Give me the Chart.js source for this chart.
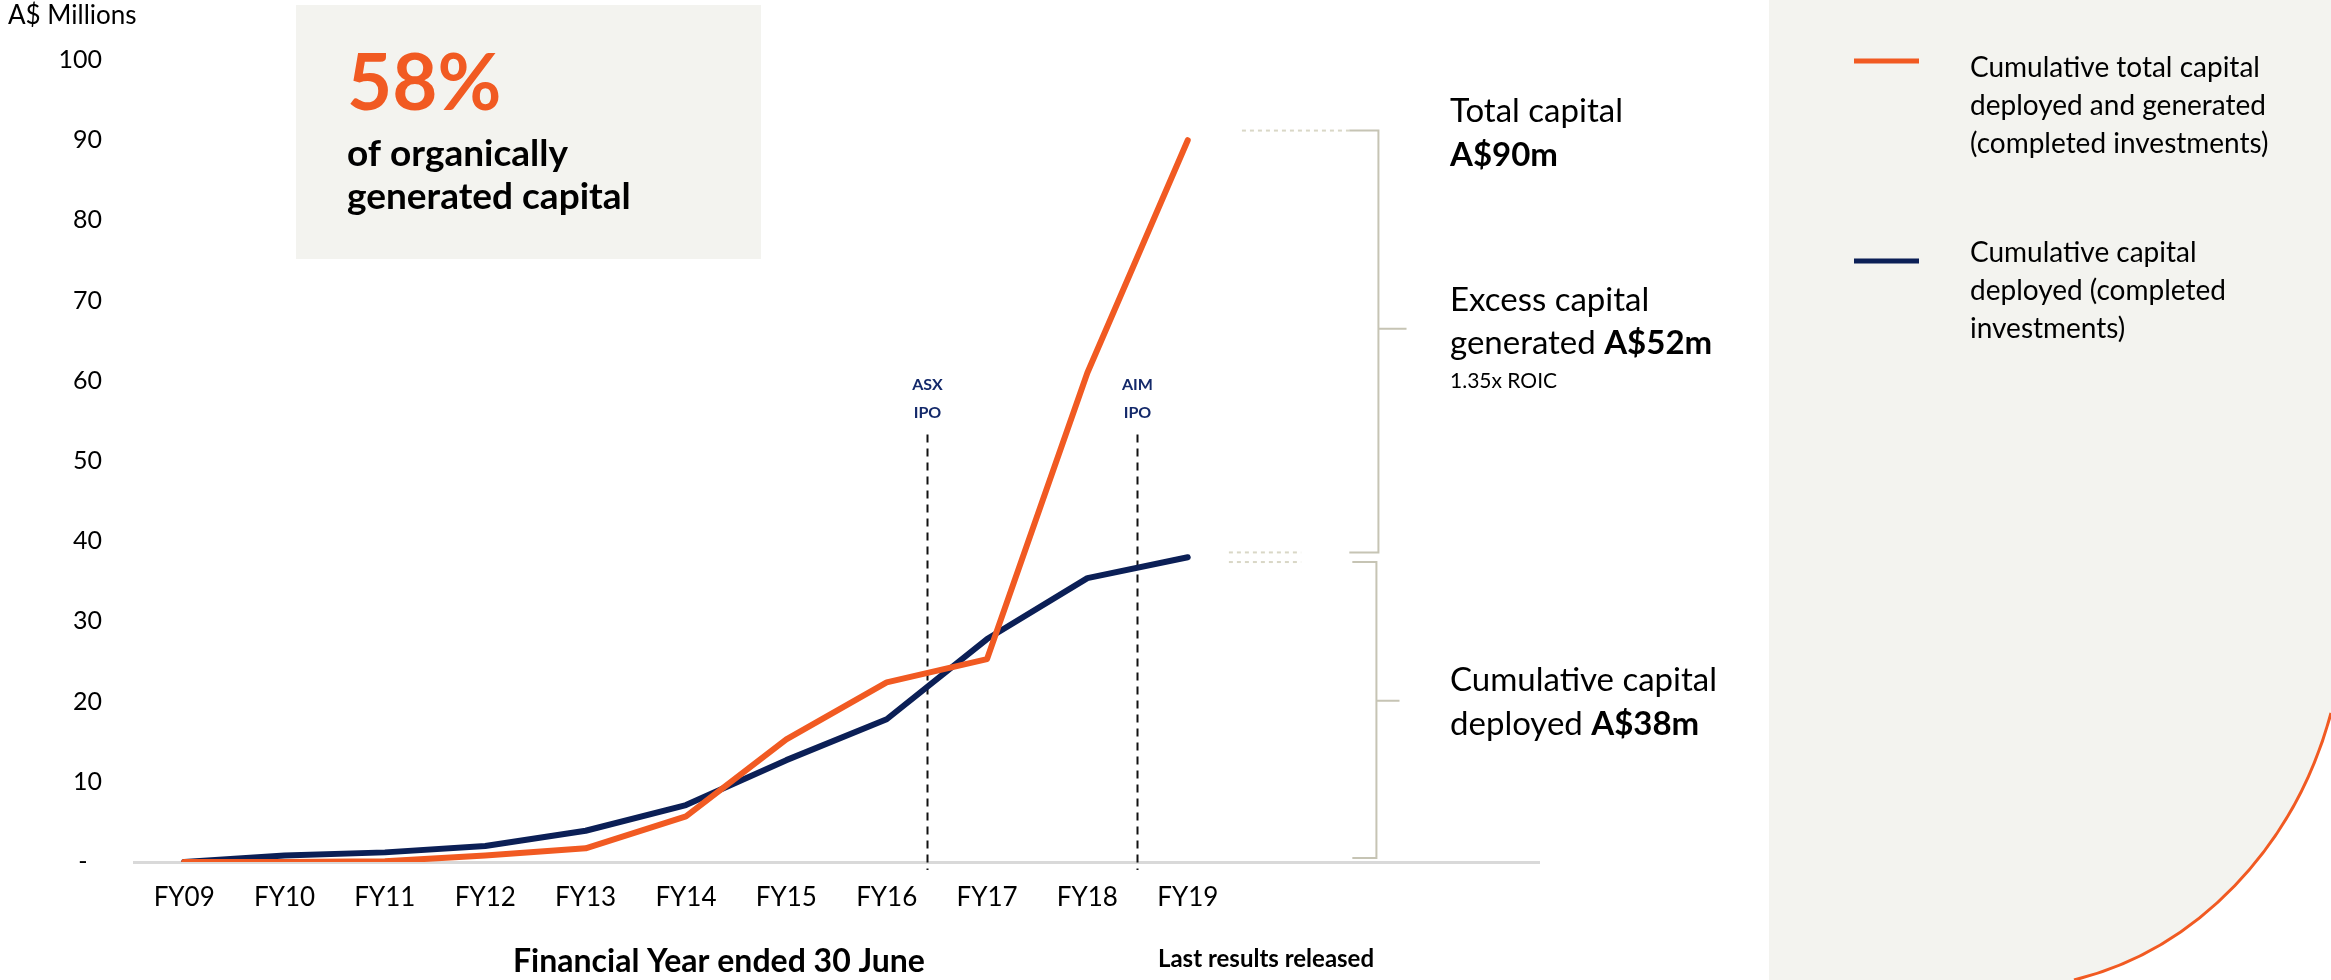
<!DOCTYPE html>
<html>
<head>
<meta charset="utf-8">
<title>Cumulative capital deployed and generated</title>
<script src="https://cdn.jsdelivr.net/npm/chart.js@4.4.1/dist/chart.umd.min.js"></script>
<style>
  html, body { margin: 0; padding: 0; background: #ffffff; overflow: hidden; }
  #wrap { position: relative; width: 2331px; height: 980px; }
  #backdrop, #chart { position: absolute; left: 0; top: 0; }
</style>
</head>
<body>
<div id="wrap">
  <svg id="backdrop" width="2331" height="980">
    <!-- side panel with the curved corner -->
    <path d="M1769 0 H2331 V713 A346 389 0 0 1 2074 980 H1769 Z" fill="#f3f3ef"/>
    <path d="M2331 713 A346 389 0 0 1 2074 980" fill="none" stroke="#f15a22" stroke-width="3"/>
    <!-- highlight box behind the headline figure -->
    <rect x="296" y="5" width="465" height="254" fill="#f3f3ef"/>
  </svg>
  <canvas id="chart" width="2331" height="980"></canvas>
</div>
<script>
// ---- data ----
const fyLabels = ['FY09', 'FY10', 'FY11', 'FY12', 'FY13', 'FY14', 'FY15', 'FY16', 'FY17', 'FY18', 'FY19'];
const spareSlots = ['', '', ''];
const totalCapital = [0, 0, 0.1, 0.8, 1.7, 5.7, 15.3, 22.4, 25.3, 61, 90];
const deployedCapital = [0, 0.8, 1.2, 2.0, 3.9, 7.1, 12.7, 17.8, 27.8, 35.4, 38];
const seriesNames = ['Cumulative total capital deployed and generated (completed investments)',
                     'Cumulative capital deployed (completed investments)'];
const legendLines = [['Cumulative total capital', 'deployed and generated', '(completed investments)'],
                     ['Cumulative capital', 'deployed (completed', 'investments)']];
const yRange = [0, 100];
const yStep = 10;
const ipoNames = ['ASX', 'AIM'];
const ipoPositions = [7.4, 9.49];   // category-index positions between financial years
const ipoLineTop = 53.3;

const ORANGE = '#f15a22';
const NAVY = '#0b1f56';
const FONT = 'Lato, "Noto Sans", sans-serif';
const BRACKET = '#c6c4b4';
const LEADER = '#d9d7c6';

function font(size, bold) { return (bold ? 'bold ' : '') + size + 'px ' + FONT; }

function drawRuns(ctx, x, y, runs) {
  for (const [text, size, bold] of runs) {
    ctx.font = font(size, bold);
    ctx.fillText(text, x, y);
    x += ctx.measureText(text).width;
  }
}

// ---- IPO marker lines (behind the series) ----
const ipoMarkers = {
  id: 'ipoMarkers',
  beforeDatasetsDraw(chart) {
    const { ctx, scales: { x, y } } = chart;
    ctx.save();
    ctx.strokeStyle = '#111111';
    ctx.lineWidth = 2;
    ctx.setLineDash([8, 6]);
    ipoPositions.forEach((p, i) => {
      const px = Math.round(x.getPixelForValue(p)) + 0.5;
      ctx.beginPath();
      ctx.moveTo(px, y.getPixelForValue(ipoLineTop));
      ctx.lineTo(px, y.getPixelForValue(0) + 8);
      ctx.stroke();
      ctx.fillStyle = '#14296a';
      ctx.font = font(16, true);
      ctx.textAlign = 'center';
      ctx.textBaseline = 'alphabetic';
      ctx.fillText(ipoNames[i], px, 390);
      ctx.fillText('IPO', px, 418);
    });
    ctx.restore();
  }
};

// ---- brackets, callouts, legend and titles ----
const callouts = {
  id: 'callouts',
  afterDraw(chart) {
    const { ctx, scales: { x, y } } = chart;
    const X = v => x.getPixelForValue(v);
    const Y = v => y.getPixelForValue(v);
    ctx.save();

    // dotted leaders from the series ends
    ctx.strokeStyle = LEADER;
    ctx.lineWidth = 2;
    ctx.setLineDash([4, 4]);
    [[10.54, 11.61, 91.2], [10.41, 11.13, 38.6], [10.41, 11.13, 37.4]].forEach(([a, b, v]) => {
      ctx.beginPath();
      ctx.moveTo(X(a), Y(v));
      ctx.lineTo(X(b), Y(v));
      ctx.stroke();
    });
    ctx.setLineDash([]);

    // brackets
    ctx.strokeStyle = BRACKET;
    ctx.lineWidth = 2;
    const bracket = (x0, x1, x2, top, bottom, mid) => {
      ctx.beginPath();
      ctx.moveTo(X(x0), Y(top));
      ctx.lineTo(X(x1), Y(top));
      ctx.lineTo(X(x1), Y(bottom));
      ctx.lineTo(X(x0), Y(bottom));
      ctx.moveTo(X(x1), Y(mid));
      ctx.lineTo(X(x2), Y(mid));
      ctx.stroke();
    };
    bracket(11.61, 11.90, 12.18, 91.2, 38.6, 66.5);
    bracket(11.64, 11.88, 12.11, 37.4, 0.5, 20.1);

    // callout text
    ctx.fillStyle = '#000000';
    ctx.textAlign = 'left';
    ctx.textBaseline = 'alphabetic';
    const tx = 1450;
    drawRuns(ctx, tx, 122, [['Total capital', 33, false]]);
    drawRuns(ctx, tx, 166, [['A$90m', 33, true]]);
    drawRuns(ctx, tx, 311, [['Excess capital', 33, false]]);
    drawRuns(ctx, tx, 354, [['generated ', 33, false], ['A$52m', 33, true]]);
    drawRuns(ctx, tx, 388, [['1.35x ROIC', 21, false]]);
    drawRuns(ctx, tx, 691, [['Cumulative capital', 33, false]]);
    drawRuns(ctx, tx, 735, [['deployed ', 33, false], ['A$38m', 33, true]]);

    // headline figure
    ctx.fillStyle = ORANGE;
    drawRuns(ctx, 347, 110, [['58%', 78, true]]);
    ctx.fillStyle = '#000000';
    drawRuns(ctx, 347, 166, [['of organically', 37, true]]);
    drawRuns(ctx, 347, 209, [['generated capital', 37, true]]);

    // axis titles
    drawRuns(ctx, 8, 24, [['A$ Millions', 26, false]]);
    ctx.textAlign = 'center';
    ctx.font = font(32, true);
    ctx.fillText('Financial Year ended 30 June', 719, 972);
    ctx.font = font(24, true);
    ctx.fillText('Last results released', 1266, 967);

    // legend
    ctx.textAlign = 'left';
    const rows = [[61, 68], [261, 253]];
    chart.data.datasets.forEach((ds, i) => {
      const [lineY, textY] = rows[i];
      ctx.strokeStyle = ds.borderColor;
      ctx.lineWidth = 5;
      ctx.beginPath();
      ctx.moveTo(1854, lineY);
      ctx.lineTo(1919, lineY);
      ctx.stroke();
      ctx.fillStyle = '#000000';
      ctx.font = font(28, false);
      ctx.textBaseline = 'middle';
      legendLines[i].forEach((t, k) => ctx.fillText(t, 1970, textY + k * 38));
    });
    ctx.restore();
  }
};

new Chart(document.getElementById('chart'), {
  type: 'line',
  data: {
    labels: fyLabels.concat(spareSlots),
    datasets: [
      { label: seriesNames[0], data: totalCapital, borderColor: ORANGE, borderWidth: 6 },
      { label: seriesNames[1], data: deployedCapital, borderColor: NAVY, borderWidth: 6 }
    ]
  },
  options: {
    responsive: false,
    animation: false,
    devicePixelRatio: 1,
    layout: { padding: { top: 60, right: 792, bottom: 0, left: 0 } },
    elements: {
      point: { radius: 0, hoverRadius: 0 },
      line: { tension: 0, borderCapStyle: 'round', borderJoinStyle: 'round', fill: false }
    },
    plugins: { legend: { display: false }, tooltip: { enabled: false } },
    scales: {
      x: {
        offset: true,
        grid: { display: false, drawTicks: false },
        border: { display: true, color: '#d9d9d9', width: 3 },
        ticks: { font: { family: FONT, size: 26 }, color: '#000000', padding: 20, maxRotation: 0, autoSkip: false },
        afterFit(scale) { scale.height = 118; }
      },
      y: {
        min: yRange[0],
        max: yRange[1],
        grid: { display: false, drawTicks: false },
        border: { display: false },
        ticks: {
          stepSize: yStep,
          font: { family: FONT, size: 25 },
          color: '#000000',
          padding: 32,
          callback: v => (v === 0 ? '-\u2007' : v)
        },
        afterFit(scale) { scale.width = 134; }
      }
    }
  },
  plugins: [ipoMarkers, callouts]
});
</script>
</body>
</html>
